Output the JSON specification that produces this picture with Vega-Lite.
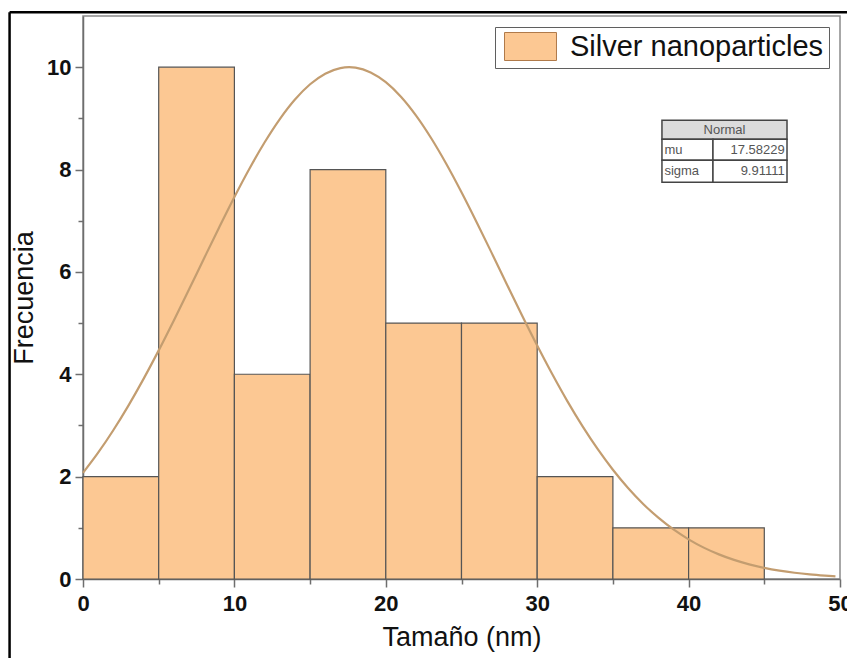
{
  "$schema": "https://vega.github.io/schema/vega-lite/v6.json",
  "width": 757,
  "height": 563,
  "autosize": {"type": "none"},
  "padding": {"left": 83, "top": 16, "right": 7, "bottom": 79},
  "background": "white",
  "config": {
    "view": {"stroke": "#8a8a8a", "strokeWidth": 1.5},
    "font": "Liberation Sans",
    "axis": {"grid": false, "domainColor": "#6e6e6e", "domainWidth": 1.5, "tickColor": "#6e6e6e", "tickWidth": 1.5, "labelFont": "Liberation Sans", "labelFontWeight": "bold", "labelFontSize": 22, "labelColor": "#111", "titleFont": "Liberation Sans", "titleFontWeight": "normal", "titleFontSize": 27, "titleColor": "#111"}
  },
  "resolve": {"axis": {"x": "independent", "y": "independent"}},
  "layer": [
    {
      "data": {"values": [
        {"bin_start": 0, "bin_end": 5, "count": 2, "series": "Silver nanoparticles"},
        {"bin_start": 5, "bin_end": 10, "count": 10, "series": "Silver nanoparticles"},
        {"bin_start": 10, "bin_end": 15, "count": 4, "series": "Silver nanoparticles"},
        {"bin_start": 15, "bin_end": 20, "count": 8, "series": "Silver nanoparticles"},
        {"bin_start": 20, "bin_end": 25, "count": 5, "series": "Silver nanoparticles"},
        {"bin_start": 25, "bin_end": 30, "count": 5, "series": "Silver nanoparticles"},
        {"bin_start": 30, "bin_end": 35, "count": 2, "series": "Silver nanoparticles"},
        {"bin_start": 35, "bin_end": 40, "count": 1, "series": "Silver nanoparticles"},
        {"bin_start": 40, "bin_end": 45, "count": 1, "series": "Silver nanoparticles"}
      ]},
      "mark": {"type": "rect", "stroke": "#555555", "strokeWidth": 1.2},
      "encoding": {
        "x": {"field": "bin_start", "type": "quantitative", "scale": {"domain": [0, 50], "nice": false, "zero": false},
          "axis": {"title": "Tamaño (nm)", "orient": "bottom", "values": [0, 10, 20, 30, 40, 50], "tickSize": 8, "labelPadding": 6, "titlePadding": 10, "labelFlush": false, "labelOverlap": false}},
        "x2": {"field": "bin_end"},
        "y": {"field": "count", "type": "quantitative", "scale": {"domain": [0, 11], "nice": false},
          "axis": {"title": "Frecuencia", "orient": "left", "values": [0, 2, 4, 6, 8, 10], "tickSize": 8, "labelPadding": 4, "titlePadding": 8, "labelFlush": false, "labelOverlap": false}},
        "y2": {"datum": 0},
        "color": {"field": "series", "type": "nominal", "scale": {"range": ["#fcc893"]},
          "legend": {"title": null, "orient": "top-right", "offset": 11, "padding": 5, "strokeColor": "#5f5f5f", "fillColor": "white",
            "symbolType": "M-1.857,-1H1.857V1H-1.857Z", "symbolSize": 784, "symbolOffset": 16, "symbolStrokeColor": "#b07a4a", "symbolStrokeWidth": 1, "symbolOpacity": 1,
            "labelFont": "Liberation Sans", "labelFontSize": 29, "labelColor": "#111", "labelOffset": 25, "labelLimit": 400}}
      }
    },
    {
      "data": {"values": [
        {"x": 0, "y": 2.073}, {"x": 1, "y": 2.467}, {"x": 2, "y": 2.906}, {"x": 3, "y": 3.388}, {"x": 4, "y": 3.910},
        {"x": 5, "y": 4.467}, {"x": 6, "y": 5.052}, {"x": 7, "y": 5.655}, {"x": 8, "y": 6.267}, {"x": 9, "y": 6.873},
        {"x": 10, "y": 7.463}, {"x": 11, "y": 8.021}, {"x": 12, "y": 8.533}, {"x": 13, "y": 8.986}, {"x": 14, "y": 9.368},
        {"x": 15, "y": 9.666}, {"x": 16, "y": 9.873}, {"x": 17, "y": 9.983}, {"x": 17.58, "y": 10.0}, {"x": 18, "y": 9.991},
        {"x": 19, "y": 9.898}, {"x": 20, "y": 9.707}, {"x": 21, "y": 9.423}, {"x": 22, "y": 9.054}, {"x": 23, "y": 8.612},
        {"x": 24, "y": 8.109}, {"x": 25, "y": 7.557}, {"x": 26, "y": 6.972}, {"x": 27, "y": 6.367}, {"x": 28, "y": 5.756},
        {"x": 29, "y": 5.150}, {"x": 30, "y": 4.562}, {"x": 31, "y": 4.000}, {"x": 32, "y": 3.471}, {"x": 33, "y": 2.982},
        {"x": 34, "y": 2.536}, {"x": 35, "y": 2.135}, {"x": 36, "y": 1.779}, {"x": 37, "y": 1.467}, {"x": 38, "y": 1.198},
        {"x": 39, "y": 0.968}, {"x": 40, "y": 0.775}, {"x": 41, "y": 0.613}, {"x": 42, "y": 0.481}, {"x": 43, "y": 0.373},
        {"x": 44, "y": 0.287}, {"x": 45, "y": 0.218}, {"x": 46, "y": 0.164}, {"x": 47, "y": 0.122}, {"x": 48, "y": 0.090},
        {"x": 49, "y": 0.066}, {"x": 49.7, "y": 0.052}
      ]},
      "mark": {"type": "line", "color": "#c39d70", "strokeWidth": 2.2, "interpolate": "monotone"},
      "encoding": {
        "x": {"field": "x", "type": "quantitative", "axis": {"orient": "bottom", "values": [5, 15, 25, 35, 45], "labels": false, "domain": false, "tickSize": 5, "title": null}},
        "y": {"field": "y", "type": "quantitative", "axis": {"orient": "left", "values": [1, 3, 5, 7, 9], "labels": false, "domain": false, "tickSize": 5, "title": null}}
      }
    },
    {
      "data": {"values": [{"cell": "header"}]},
      "mark": {"type": "rect", "fill": "#dcdcdc", "stroke": "#444", "strokeWidth": 1.5},
      "encoding": {"x": {"datum": 38.24, "type": "quantitative", "axis": null}, "x2": {"datum": 46.5}, "y": {"datum": 8.965, "type": "quantitative", "axis": null}, "y2": {"datum": 8.594}}
    },
    {
      "data": {"values": [{"cell": "mu"}]},
      "mark": {"type": "rect", "fill": "white", "stroke": "#444", "strokeWidth": 1.5},
      "encoding": {"x": {"datum": 38.24, "type": "quantitative", "axis": null}, "x2": {"datum": 41.61}, "y": {"datum": 8.594, "type": "quantitative", "axis": null}, "y2": {"datum": 8.184}}
    },
    {
      "data": {"values": [{"cell": "mu value"}]},
      "mark": {"type": "rect", "fill": "white", "stroke": "#444", "strokeWidth": 1.5},
      "encoding": {"x": {"datum": 41.61, "type": "quantitative", "axis": null}, "x2": {"datum": 46.5}, "y": {"datum": 8.594, "type": "quantitative", "axis": null}, "y2": {"datum": 8.184}}
    },
    {
      "data": {"values": [{"cell": "sigma"}]},
      "mark": {"type": "rect", "fill": "white", "stroke": "#444", "strokeWidth": 1.5},
      "encoding": {"x": {"datum": 38.24, "type": "quantitative", "axis": null}, "x2": {"datum": 41.61}, "y": {"datum": 8.184, "type": "quantitative", "axis": null}, "y2": {"datum": 7.754}}
    },
    {
      "data": {"values": [{"cell": "sigma value"}]},
      "mark": {"type": "rect", "fill": "white", "stroke": "#444", "strokeWidth": 1.5},
      "encoding": {"x": {"datum": 41.61, "type": "quantitative", "axis": null}, "x2": {"datum": 46.5}, "y": {"datum": 8.184, "type": "quantitative", "axis": null}, "y2": {"datum": 7.754}}
    },
    {
      "data": {"values": [{"label": "Normal"}]},
      "mark": {"type": "text", "font": "Liberation Sans", "fontSize": 13, "color": "#555", "align": "center", "baseline": "middle"},
      "encoding": {"x": {"datum": 42.37, "type": "quantitative", "axis": null}, "y": {"datum": 8.78, "type": "quantitative", "axis": null}, "text": {"field": "label", "type": "nominal"}}
    },
    {
      "data": {"values": [{"label": "mu"}]},
      "mark": {"type": "text", "font": "Liberation Sans", "fontSize": 13, "color": "#555", "align": "left", "baseline": "middle"},
      "encoding": {"x": {"datum": 38.4, "type": "quantitative", "axis": null}, "y": {"datum": 8.39, "type": "quantitative", "axis": null}, "text": {"field": "label", "type": "nominal"}}
    },
    {
      "data": {"values": [{"label": "sigma"}]},
      "mark": {"type": "text", "font": "Liberation Sans", "fontSize": 13, "color": "#555", "align": "left", "baseline": "middle"},
      "encoding": {"x": {"datum": 38.4, "type": "quantitative", "axis": null}, "y": {"datum": 7.97, "type": "quantitative", "axis": null}, "text": {"field": "label", "type": "nominal"}}
    },
    {
      "data": {"values": [{"label": "17.58229"}]},
      "mark": {"type": "text", "font": "Liberation Sans", "fontSize": 13, "color": "#555", "align": "right", "baseline": "middle"},
      "encoding": {"x": {"datum": 46.35, "type": "quantitative", "axis": null}, "y": {"datum": 8.39, "type": "quantitative", "axis": null}, "text": {"field": "label", "type": "nominal"}}
    },
    {
      "data": {"values": [{"label": "9.91111"}]},
      "mark": {"type": "text", "font": "Liberation Sans", "fontSize": 13, "color": "#555", "align": "right", "baseline": "middle"},
      "encoding": {"x": {"datum": 46.35, "type": "quantitative", "axis": null}, "y": {"datum": 7.97, "type": "quantitative", "axis": null}, "text": {"field": "label", "type": "nominal"}}
    },
    {
      "data": {"values": [{"edge": "left"}]},
      "mark": {"type": "rule", "color": "black", "strokeWidth": 2.5, "clip": false},
      "encoding": {"x": {"datum": -4.85, "type": "quantitative", "axis": null}, "y": {"datum": 11.075, "type": "quantitative", "axis": null}, "y2": {"datum": -1.7}}
    },
    {
      "data": {"values": [{"edge": "top"}]},
      "mark": {"type": "rule", "color": "black", "strokeWidth": 2.5, "clip": false},
      "encoding": {"x": {"datum": -4.85, "type": "quantitative", "axis": null}, "x2": {"datum": 51}, "y": {"datum": 11.075, "type": "quantitative", "axis": null}}
    }
  ]
}
